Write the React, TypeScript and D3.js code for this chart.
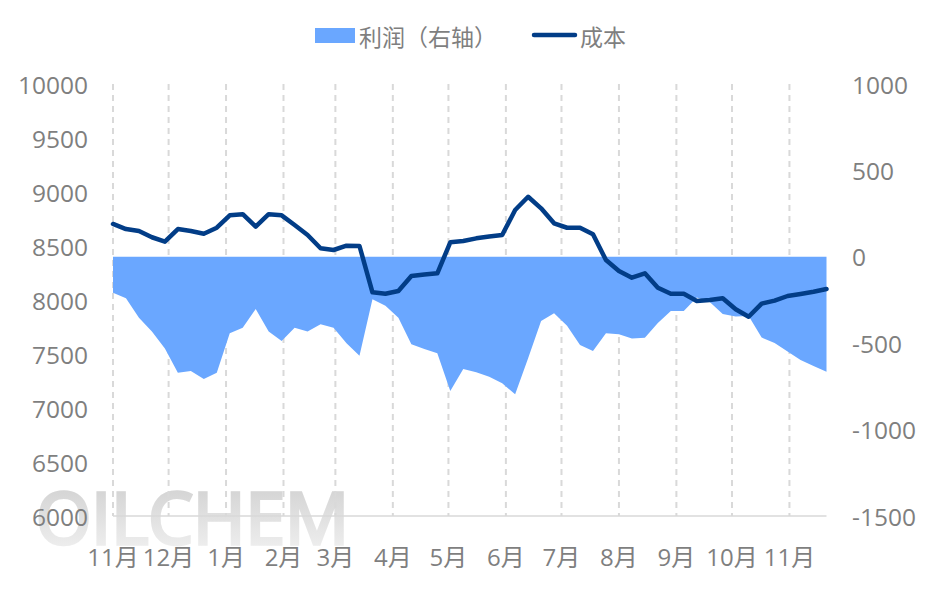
import React, { useEffect, useRef } from 'react';
import * as d3 from 'd3';

// weekly series, first point early Nov
const startDate = new Date(2022, 10, 3);
const weekCount = 56;

// 成本 (left axis)
const costValues = [
    8704, 8657, 8639, 8581, 8540, 8657, 8639, 8614, 8669, 8784,
    8794, 8679, 8794, 8784, 8694, 8602, 8479, 8463, 8503, 8500,
    8071, 8058, 8083, 8222, 8236, 8247, 8534, 8546, 8571, 8588,
    8602, 8833, 8956, 8849, 8710, 8669, 8669, 8608, 8370, 8269,
    8207, 8247, 8114, 8058, 8058, 7991, 8000, 8016, 7914, 7845,
    7966, 7994, 8037, 8056, 8077, 8102,
];

// 利润 (right axis)
const profitValues = [
    -208, -240, -352, -433, -530, -671, -661, -707, -671, -443,
    -410, -302, -433, -487, -410, -433, -391, -410, -501, -572,
    -246, -283, -352, -506, -534, -558, -777, -649, -668, -694,
    -732, -796, -587, -372, -327, -399, -510, -545, -443, -448,
    -473, -468, -383, -314, -314, -236, -262, -331, -345, -343,
    -467, -499, -548, -597, -632, -665,
];

const leftTicks = [6000, 6500, 7000, 7500, 8000, 8500, 9000, 9500, 10000];
const rightTicks = [-1500, -1000, -500, 0, 500, 1000];

const areaColor = "#6aa7ff";
const lineColor = "#023d87";
const textColor = "#7f7f7f";
const numFont = "'Open Sans', 'Noto Sans CJK SC', sans-serif";

const App: React.FC = () => {
    const d3Container = useRef<SVGSVGElement | null>(null);

    useEffect(() => {
        if (!d3Container.current) return;
        const svg = d3.select(d3Container.current);
        svg.selectAll("*").remove();

        const height = 591;
        const margin = { top: 84, right: 109, bottom: 75, left: 113 };

        const dates = d3.range(weekCount).map(i => d3.timeDay.offset(startDate, 7 * i));
        const data = dates.map((d, i) => ({ date: d, cost: costValues[i], profit: profitValues[i] }));

        const xScale = d3.scaleTime()
            .domain([dates[0], dates[dates.length - 1]])
            .range([margin.left, 826.5]);
        const yLeft = d3.scaleLinear().domain([6000, 10000]).range([height - margin.bottom, margin.top]);
        const yRight = d3.scaleLinear().domain([-1500, 1000]).range([height - margin.bottom, margin.top]);
        const bottom = height - margin.bottom;

        // watermark
        const defs = svg.append("defs");
        const grad = defs.append("linearGradient")
            .attr("id", "wm").attr("x1", 0).attr("y1", 0).attr("x2", 0).attr("y2", 1);
        grad.append("stop").attr("offset", "0%").attr("stop-color", "#cbcbcb");
        grad.append("stop").attr("offset", "100%").attr("stop-color", "#f5f5f5");
        svg.append("text")
            .attr("x", 36).attr("y", 544)
            .attr("textLength", 313)
            .attr("lengthAdjust", "spacingAndGlyphs")
            .style("font-family", "'Open Sans', sans-serif")
            .style("font-size", "72px")
            .style("fill", "url(#wm)")
            .style("stroke", "url(#wm)")
            .style("stroke-width", "3.5px")
            .text("OILCHEM");

        // month gridlines
        const monthTicks = d3.range(13).map(k => d3.timeMonth.offset(startDate, k));
        svg.append("g")
            .selectAll("line")
            .data(monthTicks)
            .join("line")
            .attr("x1", d => xScale(d)).attr("x2", d => xScale(d))
            .attr("y1", margin.top).attr("y2", bottom)
            .attr("stroke", "#d9d9d9")
            .attr("stroke-width", 2)
            .attr("stroke-dasharray", "6,5");

        // x axis line
        svg.append("line")
            .attr("x1", margin.left).attr("x2", 826.5)
            .attr("y1", bottom).attr("y2", bottom)
            .attr("stroke", "#d9d9d9").attr("stroke-width", 1.5);

        // profit area
        const area = d3.area<{ date: Date; profit: number }>()
            .x(d => xScale(d.date))
            .y0(yRight(0))
            .y1(d => yRight(d.profit));
        svg.append("path")
            .datum(data)
            .attr("fill", areaColor)
            .attr("d", area);

        // cost line
        const line = d3.line<{ date: Date; cost: number }>()
            .x(d => xScale(d.date))
            .y(d => yLeft(d.cost));
        svg.append("path")
            .datum(data)
            .attr("fill", "none")
            .attr("stroke", lineColor)
            .attr("stroke-width", 4.5)
            .attr("stroke-linejoin", "round")
            .attr("stroke-linecap", "round")
            .attr("d", line);

        // left axis labels
        svg.append("g")
            .selectAll("text")
            .data(leftTicks)
            .join("text")
            .attr("x", 88)
            .attr("y", d => yLeft(d))
            .attr("text-anchor", "end")
            .attr("dominant-baseline", "central")
            .style("font-family", numFont)
            .style("font-size", "24.5px")
            .style("fill", textColor)
            .text(d => String(d));

        // right axis labels
        svg.append("g")
            .selectAll("text")
            .data(rightTicks)
            .join("text")
            .attr("x", 852)
            .attr("y", d => yRight(d))
            .attr("dominant-baseline", "central")
            .style("font-family", numFont)
            .style("font-size", "24.5px")
            .style("fill", textColor)
            .text(d => String(d));

        // month labels
        svg.append("g")
            .selectAll("text")
            .data(monthTicks)
            .join("text")
            .attr("x", d => xScale(d))
            .attr("y", 556)
            .attr("text-anchor", "middle")
            .attr("dominant-baseline", "central")
            .style("font-family", numFont)
            .style("font-size", "24px")
            .style("fill", textColor)
            .text(d => `${d.getMonth() + 1}月`);

        // legend
        const legend = svg.append("g");
        legend.append("rect").attr("x", 315).attr("y", 28).attr("width", 40).attr("height", 15).attr("fill", areaColor);
        legend.append("text").attr("x", 359).attr("y", 35.5).attr("dominant-baseline", "central")
            .style("font-family", "'Noto Sans CJK SC', sans-serif").style("font-size", "23px").style("fill", textColor)
            .text("利润（右轴）");
        legend.append("line").attr("x1", 534).attr("x2", 575).attr("y1", 35).attr("y2", 35)
            .attr("stroke", lineColor).attr("stroke-width", 4.5).attr("stroke-linecap", "round");
        legend.append("text").attr("x", 580).attr("y", 35.5).attr("dominant-baseline", "central")
            .style("font-family", "'Noto Sans CJK SC', sans-serif").style("font-size", "23px").style("fill", textColor)
            .text("成本");
    }, []);

    return (
        <svg
            ref={d3Container}
            width={935}
            height={591}
            style={{ position: "absolute", left: 0, top: 0, background: "#fff" }}
        />
    );
};

export default App;
